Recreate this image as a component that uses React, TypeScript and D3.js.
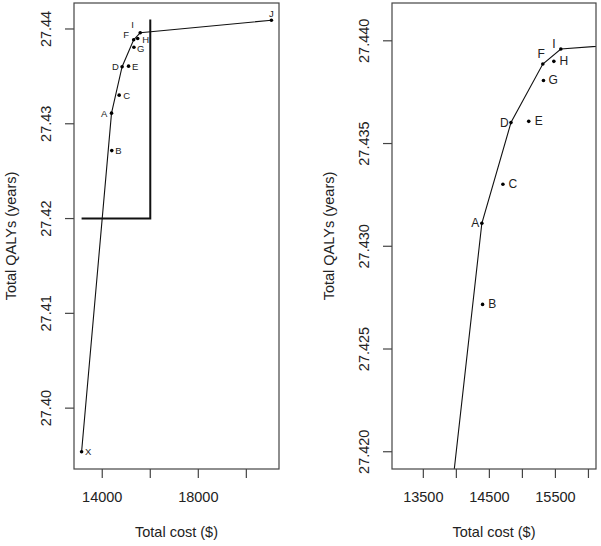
import React from "react";
import * as d3 from "d3";

// strategies: cost ($) and QALYs
const labels = ["X", "A", "B", "C", "D", "E", "F", "G", "H", "I", "J"];
const costs = [13140, 14386, 14397, 14705, 14827, 15096, 15309, 15319, 15476, 15582, 21044];
const qalys = [
  27.3954, 27.43112, 27.42717, 27.43302, 27.43602, 27.43608, 27.43887, 27.43807, 27.439, 27.4396,
  27.44092,
];
// efficiency frontier
const frontier = ["X", "A", "D", "F", "I", "J"];

// zoom window shown in the right panel
const zoomX = [13140, 16000];
const zoomY = [27.42, 27.441];

const leftXTicks = [14000, 16000, 18000, 20000];
const leftXLabels = ["14000", "", "18000", ""];
const leftYTicks = [27.4, 27.41, 27.42, 27.43, 27.44];
const rightXTicks = [13500, 14000, 14500, 15000, 15500, 16000];
const rightXLabels = ["13500", "", "14500", "", "15500", ""];
const rightYTicks = [27.42, 27.425, 27.43, 27.435, 27.44];

// label offsets (px, centre of text relative to the point)
const leftOffsets: Record<string, [number, number]> = {
  X: [6.6, 0], A: [-7.4, 0], B: [6.7, 0], C: [7.4, 0], D: [-6.7, 0], E: [6.7, 0],
  F: [-7.6, -5], G: [6.8, 1], H: [8, 1.5], I: [-7.7, -8], J: [0, -7],
};
const rightOffsets: Record<string, [number, number]> = {
  X: [9, 0], A: [-6.6, 0], B: [9.7, 0], C: [10, 0], D: [-6.6, 0], E: [10, 0],
  F: [-1.6, -10], G: [9.7, 0], H: [10, 0], I: [-7, -5], J: [0, -9],
};

const FONT = "Liberation Sans, Arial, Helvetica, sans-serif";

function pad(ext: number[]) {
  const d = ext[1] - ext[0];
  return [ext[0] - 0.04 * d, ext[1] + 0.04 * d];
}

type PanelProps = {
  id: string;
  box: { x0: number; x1: number; y0: number; y1: number };
  xlim: number[];
  ylim: number[];
  xTicks: number[];
  xLabels: string[];
  yTicks: number[];
  yFmt: string;
  offsets: Record<string, [number, number]>;
  labelSize: number;
  showRect?: boolean;
};

function Panel(p: PanelProps) {
  const { x0, x1, y0, y1 } = p.box;
  const x = d3.scaleLinear().domain(pad(p.xlim)).range([x0, x1]);
  const y = d3.scaleLinear().domain(pad(p.ylim)).range([y1, y0]);
  const pts = labels.map((l, i) => ({ l, c: costs[i], q: qalys[i] }));
  const front = frontier.map((l) => pts.find((d) => d.l === l)!);
  const inside = pts.filter((d) => x(d.c) >= x0 && x(d.c) <= x1 && y(d.q) >= y0 && y(d.q) <= y1);
  const line = d3
    .line<{ c: number; q: number }>()
    .x((d) => x(d.c))
    .y((d) => y(d.q));
  const fmt = d3.format(p.yFmt);
  const tick = 9;
  const cx = (x0 + x1) / 2;
  const cy = (y0 + y1) / 2;
  const xIn = (v: number) => x(v) >= x0 - 0.5 && x(v) <= x1 + 0.5;
  const yIn = (v: number) => y(v) >= y0 - 0.5 && y(v) <= y1 + 0.5;

  return (
    <g fontFamily={FONT}>
      <defs>
        <clipPath id={p.id}>
          <rect x={x0} y={y0} width={x1 - x0} height={y1 - y0} />
        </clipPath>
      </defs>
      <g clipPath={`url(#${p.id})`}>
        <path d={line(front) || ""} fill="none" stroke="#111" strokeWidth={1.1} />
        {p.showRect && (
          <path
            d={`M${x(zoomX[0])},${y(zoomY[0])}L${x(zoomX[1])},${y(zoomY[0])}L${x(zoomX[1])},${y(zoomY[1])}`}
            fill="none"
            stroke="#111"
            strokeWidth={2}
          />
        )}
        {inside.map((d) => (
          <circle key={d.l} cx={x(d.c)} cy={y(d.q)} r={1.8} fill="#000" />
        ))}
        {inside.map((d) => (
          <text
            key={"t" + d.l}
            x={x(d.c) + p.offsets[d.l][0]}
            y={y(d.q) + p.offsets[d.l][1]}
            fontSize={p.labelSize}
            textAnchor="middle"
            dominantBaseline="central"
            fill="#222"
          >
            {d.l}
          </text>
        ))}
      </g>
      <rect x={x0} y={y0} width={x1 - x0} height={y1 - y0} fill="none" stroke="#444" strokeWidth={1.2} />
      {p.xTicks.filter(xIn).map((v) => (
        <g key={"x" + v}>
          <line x1={x(v)} x2={x(v)} y1={y1} y2={y1 + tick} stroke="#444" strokeWidth={1.2} />
          <text x={x(v)} y={y1 + 28} fontSize={14.5} textAnchor="middle" dominantBaseline="central" fill="#222">
            {p.xLabels[p.xTicks.indexOf(v)]}
          </text>
        </g>
      ))}
      {p.yTicks.filter(yIn).map((v) => (
        <g key={"y" + v}>
          <line x1={x0 - tick} x2={x0} y1={y(v)} y2={y(v)} stroke="#444" strokeWidth={1.2} />
          <text
            transform={`translate(${x0 - 28},${y(v)}) rotate(-90)`}
            fontSize={14.5}
            textAnchor="middle"
            dominantBaseline="central"
            fill="#222"
          >
            {fmt(v)}
          </text>
        </g>
      ))}
      <text x={cx} y={532} fontSize={14.5} textAnchor="middle" dominantBaseline="central" fill="#222">
        Total cost ($)
      </text>
      <text
        transform={`translate(${x0 - 63},${cy}) rotate(-90)`}
        fontSize={14.5}
        textAnchor="middle"
        dominantBaseline="central"
        fill="#222"
      >
        Total QALYs (years)
      </text>
    </g>
  );
}

export default function App() {
  return (
    <svg
      width={601}
      height={546}
      style={{ position: "absolute", left: 0, top: 0, background: "#fff" }}
    >
      <rect width={601} height={546} fill="#fff" />
      <Panel
        id="clipL"
        box={{ x0: 74, x1: 279, y0: 3, y1: 469 }}
        xlim={d3.extent(costs) as number[]}
        ylim={d3.extent(qalys) as number[]}
        xTicks={leftXTicks}
        xLabels={leftXLabels}
        yTicks={leftYTicks}
        yFmt=".2f"
        offsets={leftOffsets}
        labelSize={9.5}
        showRect
      />
      <Panel
        id="clipR"
        box={{ x0: 392, x1: 596, y0: 3, y1: 469 }}
        xlim={zoomX}
        ylim={zoomY}
        xTicks={rightXTicks}
        xLabels={rightXLabels}
        yTicks={rightYTicks}
        yFmt=".3f"
        offsets={rightOffsets}
        labelSize={12}
      />
    </svg>
  );
}
